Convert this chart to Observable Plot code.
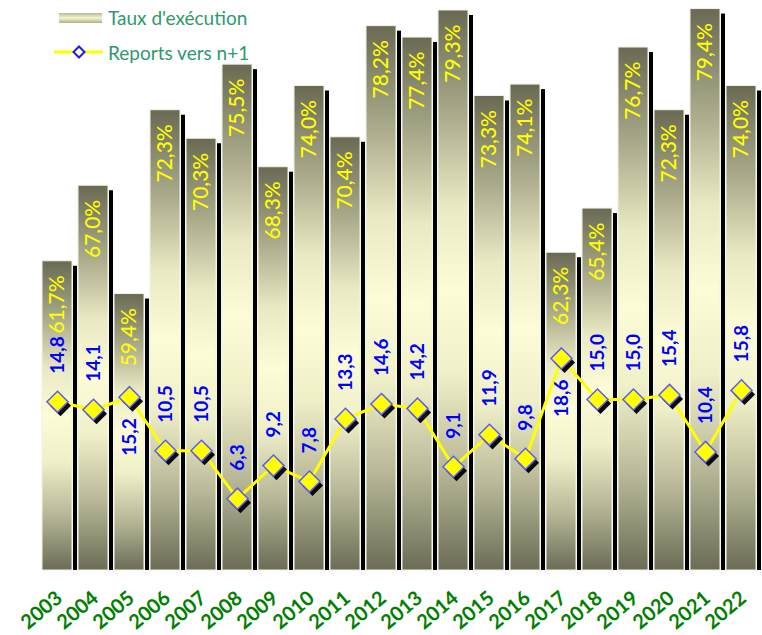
<!DOCTYPE html>
<html>
<head>
<meta charset="utf-8">
<script src="https://cdn.jsdelivr.net/npm/d3@7"></script>
<script src="https://cdn.jsdelivr.net/npm/@observablehq/plot@0.6"></script>
<style>
  body { margin: 0; background: #ffffff; }
  #wrap { position: relative; width: 762px; height: 635px; overflow: hidden; }
  #wrap svg { display: block; }
  .lg { position: absolute; font-family: Lato, "DejaVu Sans", sans-serif; font-size: 19px; color: #2e9a6a; white-space: nowrap; line-height: 1; }
</style>
</head>
<body>
<div id="wrap">
  <div id="chart"></div>
  <div class="lg" style="left:59px;top:13px;width:43px;height:10px;background:linear-gradient(to bottom,#b9b993,#f6f6d0 50%,#aeae8a);"></div>
  <div class="lg" style="left:108px;top:8px;">Taux d'exécution</div>
  <svg class="lg" style="left:52px;top:42px;" width="54" height="20">
    <line x1="2" y1="10" x2="51" y2="10" stroke="#ffff00" stroke-width="3"/>
    <path d="M27,4.5 L32.5,10 L27,15.5 L21.5,10 Z" fill="#ffffc8" stroke="#1a1aff" stroke-width="2"/>
  </svg>
  <div class="lg" style="left:108px;top:43px;">Reports vers n+1</div>
</div>
<script>
const years = ["2003","2004","2005","2006","2007","2008","2009","2010","2011","2012",
               "2013","2014","2015","2016","2017","2018","2019","2020","2021","2022"];
const tauxExecution = [61.7, 67.0, 59.4, 72.3, 70.3, 75.5, 68.3, 74.0, 70.4, 78.2,
                       77.4, 79.3, 73.3, 74.1, 62.3, 65.4, 76.7, 72.3, 79.4, 74.0];
const reportsN1 = [14.8, 14.1, 15.2, 10.5, 10.5, 6.3, 9.2, 7.8, 13.3, 14.6,
                   14.2, 9.1, 11.9, 9.8, 18.6, 15.0, 15.0, 15.4, 10.4, 15.8];
const labelsBelow = ["2005", "2017"];
const barAxis = [40, 80];   // primary axis (taux d'exécution, %)
const lineAxis = [0, 50];   // secondary axis (reports vers n+1)

const data = years.map((year, i) => ({year, taux: tauxExecution[i], report: reportsN1[i]}));
const toPrimary = v => barAxis[0] + (v - lineAxis[0]) * (barAxis[1] - barAxis[0]) / (lineAxis[1] - lineAxis[0]);
const fr = v => v.toFixed(1).replace(".", ",");
const font = "Lato, 'DejaVu Sans', sans-serif";

const plot = Plot.plot({
  width: 762, height: 635,
  marginLeft: 39, marginRight: 3, marginTop: 0, marginBottom: 65,
  style: {background: "transparent", overflow: "visible", fontFamily: font},
  x: {type: "band", domain: years, paddingInner: 0.174, paddingOuter: 0, axis: null},
  y: {domain: barAxis, axis: null},
  marks: [
    // baseline segments under bars
    Plot.barY(data, {x: "year", y1: barAxis[0], y2: barAxis[0], insetLeft: 2, insetRight: -5, stroke: "#6a6a6a", strokeWidth: 1, dy: 2}),
    // bar shadows
    Plot.barY(data, {x: "year", y1: barAxis[0], y2: "taux", insetLeft: 31, insetRight: -5, insetTop: 5, fill: "#000000"}),
    // bars
    Plot.barY(data, {x: "year", y1: barAxis[0], y2: "taux", fill: "url(#barGrad)", stroke: "#f2f2e4", strokeWidth: 1}),
    // bar labels
    Plot.text(data, {x: "year", y: "taux", text: d => fr(d.taux) + "%", rotate: -90, textAnchor: "end",
      dy: 14, fill: "#ffff00", fontSize: 21, fontWeight: 500}),
    // line
    Plot.line(data, {x: "year", y: d => toPrimary(d.report), stroke: "#ffff00", strokeWidth: 3}),
    Plot.dot(data, {x: "year", y: d => toPrimary(d.report), symbol: "diamond2", r: 9.5, fill: "#0a0a0a", dx: 3, dy: 4}),
    Plot.dot(data, {x: "year", y: d => toPrimary(d.report), symbol: "diamond2", r: 9.5, fill: "#ffff00", stroke: "#5a5aff", strokeWidth: 1.5}),
    // line labels
    Plot.text(data.filter(d => !labelsBelow.includes(d.year)), {x: "year", y: d => toPrimary(d.report), text: d => fr(d.report),
      rotate: -90, textAnchor: "start", dy: -28, fill: "#0000ff", fontSize: 19, fontWeight: "bold"}),
    Plot.text(data.filter(d => labelsBelow.includes(d.year)), {x: "year", y: d => toPrimary(d.report), text: d => fr(d.report),
      rotate: -90, textAnchor: "end", dy: 21, fill: "#0000ff", fontSize: 19, fontWeight: "bold"}),
    // x labels
    Plot.text(years, {x: d => d, y: barAxis[0], text: d => d, rotate: -40, textAnchor: "end", dy: 25, dx: 2,
      fill: "#008000", fontSize: 20, fontWeight: "bold"})
  ]
});

d3.select(plot).insert("defs", ":first-child").html(`
  <linearGradient id="barGrad" x1="0" y1="0" x2="0" y2="1">
    <stop offset="0" stop-color="#6a6a54"/>
    <stop offset="0.17" stop-color="#a4a486"/>
    <stop offset="0.35" stop-color="#e9e9c3"/>
    <stop offset="0.5" stop-color="#fcfcd6"/>
    <stop offset="0.65" stop-color="#efefc8"/>
    <stop offset="0.82" stop-color="#b8b898"/>
    <stop offset="1" stop-color="#6c6c56"/>
  </linearGradient>`);

document.getElementById("chart").appendChild(plot);
</script>
</body>
</html>
